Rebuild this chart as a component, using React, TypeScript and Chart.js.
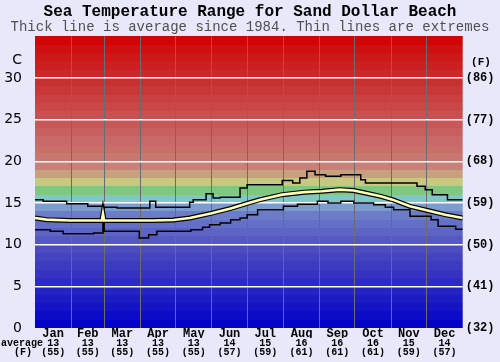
import React, { useEffect, useRef } from "react";
import { Chart, registerables } from "chart.js";

Chart.register(...registerables);

// ---------- data ----------
const months = ["Jan", "Feb", "Mar", "Apr", "May", "Jun", "Jul", "Aug", "Sep", "Oct", "Nov", "Dec"];
const monthLengths = [31, 28, 31, 30, 31, 30, 31, 31, 30, 31, 30, 31];
const monthAvgC = ["13", "13", "13", "13", "13", "14", "15", "16", "16", "16", "15", "14"];
const monthAvgF = ["(55)", "(55)", "(55)", "(55)", "(55)", "(57)", "(59)", "(61)", "(61)", "(61)", "(59)", "(57)"];
const tempTicksC = [0, 5, 10, 15, 20, 25, 30];
const tempTicksF = ["(32)", "(41)", "(50)", "(59)", "(68)", "(77)", "(86)"];

const maxDays = [0, 7, 27, 45, 58, 59, 70, 98, 103, 132, 135, 146, 152, 158, 175, 181, 211, 220, 226, 232, 239, 248, 261, 278, 282, 326, 333, 339, 352, 365];
const maxTemps = [15.4, 15.2, 14.9, 14.6, 14.3, 14.5, 14.4, 15.2, 14.5, 15.1, 15.4, 16.1, 15.6, 15.7, 16.8, 17.2, 17.7, 17.4, 18.0, 18.8, 18.4, 18.2, 18.4, 17.8, 17.4, 17.0, 16.6, 16.0, 15.4, 15.4];

const avgDays = [0, 10, 30, 57, 58, 59, 100, 118, 132, 150, 167, 181, 192, 211, 230, 245, 260, 272, 282, 295, 305, 320, 335, 350, 365];
const avgTemps = [13.2, 13.0, 12.9, 12.9, 13.7, 12.9, 12.9, 12.95, 13.2, 13.75, 14.35, 14.95, 15.4, 16.0, 16.3, 16.4, 16.6, 16.5, 16.2, 15.8, 15.4, 14.6, 14.1, 13.6, 13.2];

const minDays = [0, 13, 24, 50, 58, 59, 89, 97, 104, 133, 143, 149, 158, 167, 175, 181, 190, 212, 224, 241, 250, 261, 272, 289, 299, 306, 320, 338, 344, 359, 365];
const minTemps = [11.8, 11.6, 11.3, 11.4, 13.7, 11.6, 10.8, 11.2, 11.6, 11.8, 12.1, 12.4, 12.6, 13.0, 13.2, 13.6, 14.2, 14.6, 14.85, 15.2, 15.0, 15.2, 15.0, 14.8, 14.5, 14.2, 13.4, 13.0, 12.2, 11.85, 11.8];

// ---------- styles ----------
const bandColors = [
  "#0404c8", "#0c0cc8", "#1414c4", "#1c1cc4", "#2424c4",
  "#2c2cc4", "#3434c0", "#3c3cc0", "#4444c0", "#4c4cc0",
  "#5458c0", "#5c64c4", "#6470c8", "#6c7cc8", "#7c9cd0",
  "#80c8c8", "#80c880", "#c8c880", "#c8a080", "#c88078",
  "#c87870", "#c87068", "#c86868", "#c86060", "#c85858",
  "#c85050", "#c84848", "#c84040", "#c83838", "#c83030",
  "#cc2828", "#cc2020", "#cc1818", "#d01010", "#d00606",
];
const MONO = "'Liberation Mono', 'DejaVu Sans Mono', monospace";
const SANS = "'DejaVu Sans', sans-serif";
const PAGE_BG = "#e8e8fa";

const monthStarts: number[] = [0];
monthLengths.forEach((l, i) => monthStarts.push(monthStarts[i] + l));
const monthMids = monthLengths.map((l, i) => monthStarts[i] + l / 2);

const toPoints = (xs: number[], ys: number[]) => xs.map((x, i) => ({ x, y: ys[i] }));

const bandPlugin = {
  id: "bands",
  beforeDraw(chart: any) {
    const { ctx, chartArea, scales } = chart;
    const y = scales.y;
    ctx.save();
    ctx.fillStyle = PAGE_BG;
    ctx.fillRect(0, 0, chart.width, chart.height);
    for (let i = 0; i < bandColors.length; i++) {
      const top = Math.round(y.getPixelForValue(i + 1));
      const bottom = Math.round(y.getPixelForValue(i));
      ctx.fillStyle = bandColors[i];
      ctx.fillRect(chartArea.left, top, chartArea.right - chartArea.left, bottom - top);
    }
    ctx.restore();
  },
};

const labelPlugin = {
  id: "extraLabels",
  afterDraw(chart: any) {
    const { ctx, chartArea } = chart;
    ctx.save();
    ctx.fillStyle = "#000";
    ctx.textBaseline = "middle";
    ctx.font = `14px ${SANS}`;
    ctx.textAlign = "right";
    ctx.fillText("C", 22, chartArea.top + 24);
    ctx.font = `bold 11px ${MONO}`;
    ctx.textAlign = "center";
    ctx.fillText("(F)", 481, chartArea.top + 26);
    ctx.font = `bold 10px ${MONO}`;
    ctx.textAlign = "left";
    ctx.fillText("average", 1, chartArea.bottom + 15);
    ctx.textAlign = "center";
    ctx.fillText("(F)", 23, chartArea.bottom + 24.7);
    ctx.restore();
  },
};

const bottomAxis = (weight: number, height: number, labels: string[], font: any) => ({
  type: "linear",
  position: "bottom",
  min: 0,
  max: 365,
  weight,
  afterBuildTicks: (s: any) => {
    s.ticks = monthMids.map((v) => ({ value: v }));
  },
  afterFit: (s: any) => {
    s.height = height;
  },
  ticks: {
    autoSkip: false,
    maxRotation: 0,
    padding: 0,
    color: "#000",
    font,
    callback: (_v: any, i: number) => labels[i],
  },
  grid: { display: false, drawTicks: false },
  border: { display: false },
});

export default function App() {
  const canvasRef = useRef<HTMLCanvasElement | null>(null);

  useEffect(() => {
    if (!canvasRef.current) return;
    const chart = new Chart(canvasRef.current, {
      type: "line",
      data: {
        datasets: [
          {
            label: "average",
            data: toPoints(avgDays, avgTemps),
            borderColor: "#ffffb4",
            borderWidth: 2.6,
            pointRadius: 0,
            xAxisID: "x",
            yAxisID: "y",
            order: 0,
          },
          {
            label: "average outline",
            data: toPoints(avgDays, avgTemps),
            borderColor: "#000",
            borderWidth: 5,
            pointRadius: 0,
            xAxisID: "x",
            yAxisID: "y",
            order: 1,
          },
          {
            label: "max",
            data: toPoints(maxDays, maxTemps),
            borderColor: "#000",
            borderWidth: 1.5,
            pointRadius: 0,
            stepped: true,
            xAxisID: "x",
            yAxisID: "y",
            order: 2,
          },
          {
            label: "min",
            data: toPoints(minDays, minTemps),
            borderColor: "#000",
            borderWidth: 1.5,
            pointRadius: 0,
            stepped: true,
            xAxisID: "x",
            yAxisID: "y",
            order: 3,
          },
        ],
      },
      options: {
        responsive: false,
        animation: false,
        events: [],
        layout: { padding: 0 },
        plugins: {
          legend: { display: false },
          tooltip: { enabled: false },
          title: {
            display: true,
            text: "Sea Temperature Range for Sand Dollar Beach",
            color: "#000",
            font: { family: MONO, size: 16, weight: "bold", lineHeight: 1 },
            padding: { top: 4, bottom: 0 },
          },
          subtitle: {
            display: true,
            text: "Thick line is average since 1984. Thin lines are extremes",
            color: "#505050",
            font: { family: MONO, size: 14, weight: "normal", lineHeight: 1 },
            padding: { top: 0, bottom: 2.3 },
          },
        },
        scales: {
          x: {
            type: "linear",
            position: "bottom",
            min: 0,
            max: 365,
            weight: 0,
            afterBuildTicks: (s: any) => {
              s.ticks = monthStarts.map((v) => ({ value: v }));
            },
            afterFit: (s: any) => {
              s.height = 0;
            },
            ticks: { display: false },
            grid: {
              drawTicks: false,
              lineWidth: 1,
              color: (c: any) => (c.index === 0 || c.index === 12 ? "rgba(0,0,0,0)" : "#6c6c70"),
            },
            border: { display: false },
          },
          xm: bottomAxis(1, 10, months, { family: MONO, size: 12, weight: "bold", lineHeight: 1 }),
          xa: bottomAxis(2, 9.7, monthAvgC, { family: MONO, size: 10, weight: "bold", lineHeight: 1 }),
          xf: bottomAxis(3, 14.3, monthAvgF, { family: MONO, size: 10, weight: "bold", lineHeight: 1 }),
          y: {
            type: "linear",
            position: "left",
            min: 0,
            max: 35,
            afterBuildTicks: (s: any) => {
              s.ticks = tempTicksC.map((v) => ({ value: v }));
            },
            afterFit: (s: any) => {
              s.width = 35;
            },
            ticks: {
              padding: 13,
              color: "#000",
              font: { family: SANS, size: 14, weight: "normal", lineHeight: 1 },
            },
            grid: {
              drawTicks: false,
              lineWidth: 1.5,
              color: (c: any) => (c.tick && c.tick.value === 0 ? "rgba(0,0,0,0)" : "#ffffff"),
            },
            border: { display: false },
          },
          yF: {
            type: "linear",
            position: "right",
            min: 0,
            max: 35,
            afterBuildTicks: (s: any) => {
              s.ticks = tempTicksC.map((v) => ({ value: v }));
            },
            afterFit: (s: any) => {
              s.width = 37.3;
            },
            ticks: {
              padding: 3,
              color: "#000",
              font: { family: MONO, size: 12, weight: "bold", lineHeight: 1 },
              callback: (_v: any, i: number) => tempTicksF[i],
            },
            grid: { display: false, drawTicks: false },
            border: { display: false },
          },
        },
      } as any,
      plugins: [bandPlugin, labelPlugin],
    });
    return () => chart.destroy();
  }, []);

  return (
    <div
      style={{
        position: "absolute",
        left: 0,
        top: 0,
        width: 500,
        height: 362,
        background: PAGE_BG,
      }}
    >
      <canvas ref={canvasRef} width={500} height={362} style={{ display: "block" }} />
    </div>
  );
}
